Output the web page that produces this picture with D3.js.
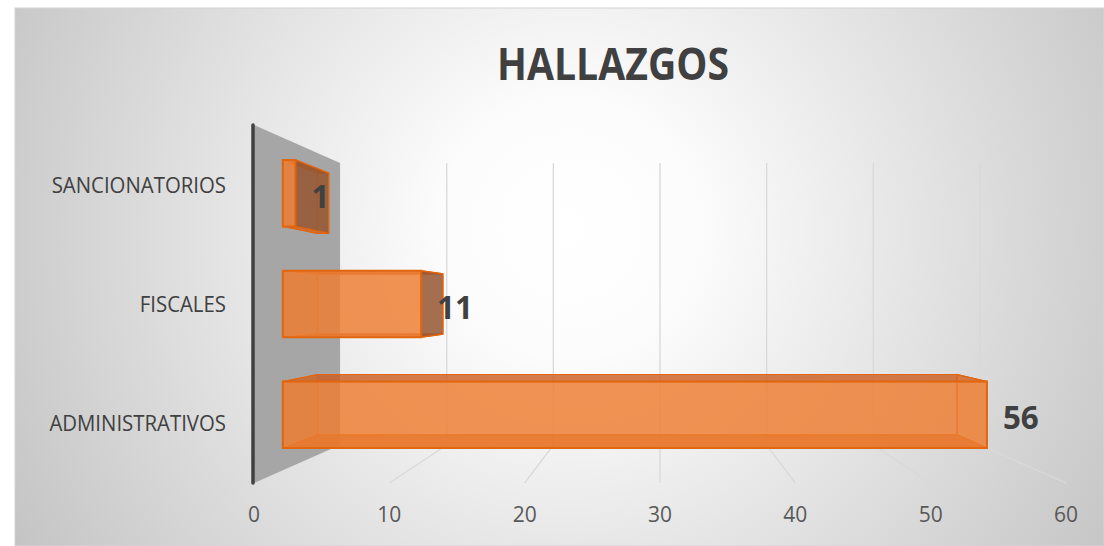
<!DOCTYPE html>
<html>
<head>
<meta charset="UTF-8">
<script src="https://d3js.org/d3.v7.min.js"></script>
<style>
  body { margin: 0; background: #fff; }
  text { font-family: "Open Sans", sans-serif; }
</style>
</head>
<body>
<div id="my_dataviz"></div>
<script>

// data
var categories = ["SANCIONATORIOS", "FISCALES", "ADMINISTRATIVOS"];
var values = [1, 11, 56];
var tickValues = [0, 10, 20, 30, 40, 50, 60];
var title = "HALLAZGOS";

var W = 1104, H = 546;

var svg = d3.select("#my_dataviz")
  .append("svg")
    .attr("width", W)
    .attr("height", H);

// background with radial shading
var defs = svg.append("defs");
var grad = defs.append("radialGradient")
  .attr("id", "bg")
  .attr("gradientUnits", "userSpaceOnUse")
  .attr("cx", 570).attr("cy", 230).attr("r", 640);
grad.append("stop").attr("offset", "0%").attr("stop-color", "#ffffff");
grad.append("stop").attr("offset", "20%").attr("stop-color", "#fcfcfc");
grad.append("stop").attr("offset", "100%").attr("stop-color", "#c4c4c4");

svg.append("rect")
  .attr("x", 15).attr("y", 8)
  .attr("width", W - 15).attr("height", H - 8)
  .attr("fill", "url(#bg)")
  .attr("stroke", "#d4d4d4");

// front plane scales
var x = d3.scaleLinear().domain([0, 60]).range([254, 1066]);
var y = d3.scaleBand().domain(categories).range([125, 483])
  .paddingInner(0.4).paddingOuter(0.2);

// simple perspective: points shrink toward a vanishing point with depth s
var vx = 660, vy = 304;
var sBack = 0.788, sBarFront = 0.929, sBarBack = 0.844;
function proj(X, Y, s) { return [vx + s * (X - vx), vy + s * (Y - vy)]; }
function poly(pts) { return pts.map(function(p) { return p.join(","); }).join(" "); }

// squeeze text a bit, the original font is narrower
function squeeze(sel, k) {
  sel.each(function() {
    var len = this.getComputedTextLength();
    d3.select(this)
      .attr("textLength", len * k)
      .attr("lengthAdjust", "spacingAndGlyphs");
  });
}

var yTop = 125, yBot = 483;

// back plane gridlines
svg.selectAll(".grid")
  .data(tickValues.slice(1))
  .enter().append("line")
    .attr("x1", function(d) { return proj(x(d), yTop, sBack)[0]; })
    .attr("y1", function(d) { return proj(x(d), yTop, sBack)[1]; })
    .attr("x2", function(d) { return proj(x(d), yBot, sBack)[0]; })
    .attr("y2", function(d) { return proj(x(d), yBot, sBack)[1]; })
    .attr("stroke", "#d9d9d9")
    .attr("stroke-width", 1.3);

// floor gridlines
svg.selectAll(".floor")
  .data(tickValues.slice(1))
  .enter().append("line")
    .attr("x1", function(d) { return proj(x(d), yBot, sBack)[0]; })
    .attr("y1", function(d) { return proj(x(d), yBot, sBack)[1]; })
    .attr("x2", function(d) { return x(d); })
    .attr("y2", yBot)
    .attr("stroke", "#d9d9d9")
    .attr("stroke-width", 1.3);

// side wall
svg.append("polygon")
  .attr("points", poly([
    proj(x(0), yTop, 1), proj(x(0), yTop, sBack),
    proj(x(0), yBot, sBack), proj(x(0), yBot, 1)
  ]))
  .attr("fill", "#a6a6a6");

svg.append("line")
  .attr("x1", x(0) - 1).attr("x2", x(0) - 1)
  .attr("y1", yTop).attr("y2", yBot)
  .attr("stroke", "#404040")
  .attr("stroke-width", 3.5)
  .attr("stroke-linecap", "round");

// 3D bars
var bars = svg.selectAll(".bar")
  .data(categories.map(function(c, i) { return {cat: c, value: values[i]}; }))
  .enter().append("g");

bars.each(function(d) {
  var g = d3.select(this);
  var x0 = x(0), x1 = x(d.value);
  var t = y(d.cat), b = y(d.cat) + y.bandwidth();
  var f = {
    lt: proj(x0, t, sBarFront), rt: proj(x1, t, sBarFront),
    rb: proj(x1, b, sBarFront), lb: proj(x0, b, sBarFront)
  };
  var k = {
    lt: proj(x0, t, sBarBack), rt: proj(x1, t, sBarBack),
    rb: proj(x1, b, sBarBack), lb: proj(x0, b, sBarBack)
  };
  var edge = "#e2650f";

  // back face
  g.append("polygon")
    .attr("points", poly([k.lt, k.rt, k.rb, k.lb]))
    .attr("fill", "#ed7d31").attr("fill-opacity", 0.15)
    .attr("stroke", edge).attr("stroke-opacity", 0.6).attr("stroke-width", 1);
  // top and bottom faces
  g.append("polygon")
    .attr("points", poly([f.lt, f.rt, k.rt, k.lt]))
    .attr("fill", "#c85a1a").attr("fill-opacity", 0.75)
    .attr("stroke", edge).attr("stroke-width", 1.2);
  g.append("polygon")
    .attr("points", poly([f.lb, f.rb, k.rb, k.lb]))
    .attr("fill", "#c85a1a").attr("fill-opacity", 0.75)
    .attr("stroke", edge).attr("stroke-width", 1.2);
  // left cap
  g.append("polygon")
    .attr("points", poly([f.lt, k.lt, k.lb, f.lb]))
    .attr("fill", "#ed7d31").attr("fill-opacity", 0.2)
    .attr("stroke", edge).attr("stroke-opacity", 0.6).attr("stroke-width", 1);
  // right cap: darker when seen from outside
  var outside = f.rt[0] < vx;
  g.append("polygon")
    .attr("points", poly([f.rt, k.rt, k.rb, f.rb]))
    .attr("fill", outside ? "#935430" : "#ed7d31")
    .attr("fill-opacity", outside ? 0.82 : 0.2)
    .attr("stroke", edge).attr("stroke-width", 1.3);
  // front face
  g.append("polygon")
    .attr("points", poly([f.lt, f.rt, f.rb, f.lb]))
    .attr("fill", "#ed7d31").attr("fill-opacity", 0.8)
    .attr("stroke", edge).attr("stroke-width", 2);

  // data label
  g.append("text")
    .attr("x", f.rt[0] + 16)
    .attr("y", (f.rt[1] + f.rb[1]) / 2 + 2)
    .attr("dominant-baseline", "central")
    .attr("font-size", 33)
    .attr("font-weight", "bold")
    .attr("fill", "#404040")
    .text(d.value)
    .call(squeeze, 0.95);
});

// category labels
svg.selectAll(".cat")
  .data(categories)
  .enter().append("text")
    .attr("x", 226)
    .attr("y", function(d) { return y(d) + y.bandwidth() / 2; })
    .attr("text-anchor", "end")
    .attr("dominant-baseline", "central")
    .attr("font-size", 21)
    .attr("fill", "#404040")
    .text(function(d) { return d; })
    .call(squeeze, 0.97);

// value axis labels
svg.selectAll(".tick")
  .data(tickValues)
  .enter().append("text")
    .attr("x", function(d) { return x(d); })
    .attr("y", 522)
    .attr("text-anchor", "middle")
    .attr("font-size", 21)
    .attr("fill", "#595959")
    .text(function(d) { return d; });

// title
svg.append("text")
  .attr("x", 613)
  .attr("y", 80)
  .attr("text-anchor", "middle")
  .attr("font-size", 45)
  .attr("font-weight", "bold")
  .attr("fill", "#404040")
  .text(title)
  .call(squeeze, 0.87);

</script>
</body>
</html>
